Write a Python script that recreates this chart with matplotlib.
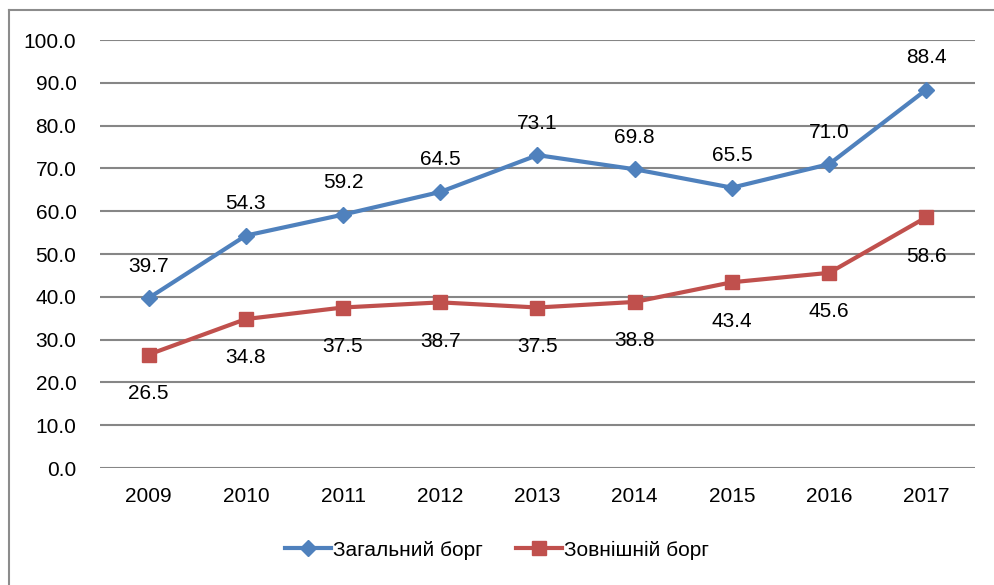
import matplotlib
matplotlib.use("Agg")
import matplotlib.pyplot as plt
from matplotlib.lines import Line2D

years = ["2009", "2010", "2011", "2012", "2013", "2014", "2015", "2016", "2017"]
total_debt = [39.7, 54.3, 59.2, 64.5, 73.1, 69.8, 65.5, 71.0, 88.4]
external_debt = [26.5, 34.8, 37.5, 38.7, 37.5, 38.8, 43.4, 45.6, 58.6]
series_names = ["Загальний борг", "Зовнішній борг"]
y_ticks = [0, 10, 20, 30, 40, 50, 60, 70, 80, 90, 100]

plt.rcParams['font.family'] = ['Liberation Sans', 'DejaVu Sans']
FS = 15

fig = plt.figure(figsize=(9.95, 5.85), dpi=100)
ax = fig.add_axes([100/995, (585-468)/585, (975-100)/995, (468-40)/585])

blue = "#4F81BD"
red = "#C0504D"
x = list(range(len(years)))

ax.plot(x, total_debt, color=blue, lw=3, marker='D', markersize=8.5, zorder=3)
ax.plot(x, external_debt, color=red, lw=3, marker='s', markersize=10, zorder=3)

for xi, v in zip(x, total_debt):
    ax.annotate(f"{v:.1f}", (xi, v), xytext=(0, 23), textcoords='offset points',
                ha='center', va='center', fontsize=FS, color='black')
for xi, v in zip(x, external_debt):
    ax.annotate(f"{v:.1f}", (xi, v), xytext=(0, -28), textcoords='offset points',
                ha='center', va='center', fontsize=FS, color='black')

ax.set_xlim(-0.5, len(years) - 0.5)
ax.set_ylim(0, 100)
ax.set_yticks(y_ticks)
ax.set_yticklabels([f"{t:.1f}" for t in y_ticks], fontsize=FS)
ax.set_xticks(x)
ax.set_xticklabels(years, fontsize=FS)
ax.tick_params(axis='both', length=0)
ax.tick_params(axis='y', pad=17)
ax.tick_params(axis='x', pad=14)
ax.grid(axis='y', color='#868686', lw=1.5)
ax.set_axisbelow(True)
for s in ax.spines.values():
    s.set_visible(False)

handles = [Line2D([], [], color=blue, lw=3, marker='D', markersize=8.5),
           Line2D([], [], color=red, lw=3, marker='s', markersize=10)]
fig.legend(handles, series_names, loc='center', bbox_to_anchor=(497/995, 1 - 550/585),
           ncol=2, frameon=False, fontsize=FS, handlelength=2.2, handletextpad=0.1,
           columnspacing=1.6)

# outer frame
fig.add_artist(Line2D([9/995, 9/995], [0, 1 - 10/585], color='#8c8c8c', lw=1.5,
                      transform=fig.transFigure))
fig.add_artist(Line2D([9/995, 1], [1 - 10/585, 1 - 10/585], color='#8c8c8c', lw=1.5,
                      transform=fig.transFigure))

fig.savefig("out.png", dpi=100)
